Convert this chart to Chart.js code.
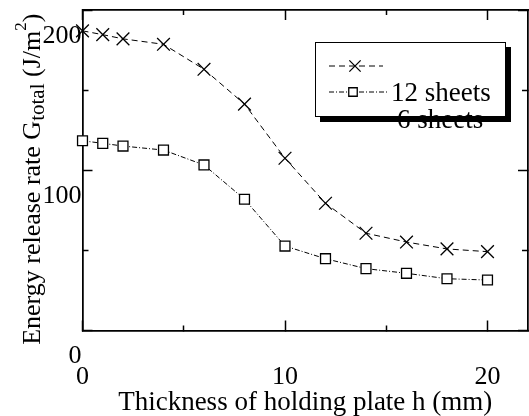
<!DOCTYPE html>
<html>
<head>
<meta charset="utf-8">
<script src="https://cdn.jsdelivr.net/npm/chart.js@4.4.1/dist/chart.umd.min.js"></script>
<style>
  html, body { margin: 0; padding: 0; background: #fff; }
  #wrap { width: 529px; height: 416px; }
</style>
</head>
<body>
<div id="wrap"><canvas id="chart" width="529" height="416"></canvas></div>
<script>
// values
const thickness = [0, 1, 2, 4, 6, 8, 10, 12, 14, 16, 18, 20];
const sheets12 = [187, 184.6, 182, 178.6, 163, 141.3, 107.5, 79.4, 60.7, 55.2, 50.9, 49.2];
const sheets6 = [118.4, 116.8, 115.1, 112.6, 103.3, 81.9, 52.7, 44.8, 38.6, 35.7, 32.3, 31.5];
const seriesNames = ['12 sheets', '6 sheets'];

const xMajor = [0, 10, 20];
const xMinor = [5, 15];
const yMajor = [0, 100, 200];
const yMinor = [50, 150];

const xTitle = 'Thickness of holding plate h (mm)';
const yTitle = ['Energy release rate G', 'total', ' (J/m', '2', ')'];

const SERIF = "'Liberation Serif', 'Times New Roman', serif";

// no label padding pushed onto the chart area
function noPad(a) {
  a.paddingLeft = 0; a.paddingRight = 0; a.paddingTop = 0; a.paddingBottom = 0;
}

// plain frame axis: only inward tick marks, no labels, takes no room
function frameAxis(position, values, len, weight) {
  const horiz = position === 'top' || position === 'bottom';
  return {
    type: 'linear',
    position: position,
    min: 0,
    max: horiz ? 22 : 200,
    weight: weight,
    afterBuildTicks: a => { a.ticks = values.map(v => ({ value: v })); },
    ticks: { display: false },
    grid: { drawOnChartArea: false, tickLength: -len, tickColor: '#000', tickWidth: 1.5 },
    border: { color: '#000', width: 1.5 },
    afterFit: a => { if (horiz) a.height = 0; else a.width = 0; noPad(a); }
  };
}

// y title with subscript and superscript, drawn as text on the canvas
const yTitlePlugin = {
  id: 'yTitle',
  afterDraw(chart) {
    const ctx = chart.ctx;
    const fonts = ['26px', '21px', '26px', '17px', '26px'];
    const shift = [0, 4, 0, -14, 0];
    ctx.save();
    ctx.translate(40, (chart.chartArea.top + chart.chartArea.bottom) / 2 + 9);
    ctx.rotate(-Math.PI / 2);
    ctx.fillStyle = '#000';
    ctx.textBaseline = 'alphabetic';
    let total = 0;
    yTitle.forEach((t, i) => { ctx.font = fonts[i] + ' ' + SERIF; total += ctx.measureText(t).width; });
    let x = -total / 2;
    yTitle.forEach((t, i) => {
      ctx.font = fonts[i] + ' ' + SERIF;
      ctx.fillText(t, x, shift[i]);
      x += ctx.measureText(t).width;
    });
    ctx.restore();
  }
};

// boxed legend with drop shadow; labels sit a row lower like in the original
const legendPlugin = {
  id: 'boxLegend',
  afterDraw(chart) {
    const ctx = chart.ctx;
    const ds = chart.data.datasets;
    ctx.save();
    ctx.fillStyle = '#000';
    ctx.fillRect(320, 47, 191, 75);
    ctx.fillStyle = '#fff';
    ctx.fillRect(315, 42, 191, 75);
    ctx.strokeStyle = '#000';
    ctx.lineWidth = 1;
    ctx.strokeRect(315.5, 42.5, 190, 74);

    const rows = [{ y: 66, x1: 329, x2: 383, mx: 355 }, { y: 92, x1: 329, x2: 388, mx: 353 }];
    rows.forEach((r, i) => {
      const d = ds[i];
      ctx.strokeStyle = '#000';
      ctx.lineWidth = 1;
      ctx.setLineDash(d.borderDash);
      ctx.beginPath();
      ctx.moveTo(r.x1, r.y);
      ctx.lineTo(r.x2, r.y);
      ctx.stroke();
      ctx.setLineDash([]);
      ctx.fillStyle = '#fff';
      ctx.lineWidth = d.pointBorderWidth;
      Chart.helpers.drawPoint(ctx, {
        pointStyle: d.pointStyle, radius: d.pointRadius - 1,
        borderWidth: d.pointBorderWidth, rotation: 0
      }, r.mx, r.y);
    });

    ctx.fillStyle = '#000';
    ctx.font = '27px ' + SERIF;
    ctx.textBaseline = 'middle';
    ctx.fillText(ds[0].label, 391, 94);
    ctx.fillText(ds[1].label, 397, 121);
    ctx.restore();
  }
};

new Chart(document.getElementById('chart'), {
  type: 'line',
  data: {
    datasets: [
      {
        label: seriesNames[0],
        data: thickness.map((h, i) => ({ x: h, y: sheets12[i] })),
        borderColor: '#000',
        borderWidth: 1,
        borderDash: [6, 4],
        pointStyle: 'crossRot',
        pointRadius: 9,
        pointBorderWidth: 1.3,
        pointBorderColor: '#000',
        pointBackgroundColor: '#fff',
        tension: 0,
        clip: false
      },
      {
        label: seriesNames[1],
        data: thickness.map((h, i) => ({ x: h, y: sheets6[i] })),
        borderColor: '#000',
        borderWidth: 1,
        borderDash: [5, 2, 1, 2],
        pointStyle: 'rect',
        pointRadius: 7,
        pointBorderWidth: 1.3,
        pointBorderColor: '#000',
        pointBackgroundColor: '#fff',
        tension: 0,
        clip: false
      }
    ]
  },
  options: {
    responsive: false,
    animation: false,
    layout: { autoPadding: false, padding: { top: 10, right: 1, left: 0, bottom: 0 } },
    plugins: { legend: { display: false }, tooltip: { enabled: false } },
    scales: {
      x: {
        type: 'linear',
        position: 'bottom',
        min: 0,
        max: 22,
        weight: 1,
        afterBuildTicks: a => { a.ticks = xMajor.map(v => ({ value: v })); },
        ticks: { autoSkip: false, maxRotation: 0, padding: 41, color: '#000', font: { family: SERIF, size: 26 } },
        grid: { drawOnChartArea: false, tickLength: -10, tickColor: '#000', tickWidth: 1.5 },
        border: { color: '#000', width: 1.5 },
        title: { display: true, text: xTitle, color: '#000', font: { family: SERIF, size: 27, lineHeight: 1 }, padding: 0 },
        afterFit: a => { a.height = 85.5; noPad(a); }
      },
      xMin: frameAxis('bottom', xMinor, 5, 0),
      y: {
        type: 'linear',
        position: 'left',
        min: 0,
        max: 200,
        weight: 1,
        afterBuildTicks: a => { a.ticks = yMajor.map(v => ({ value: v })); },
        ticks: { autoSkip: false, padding: 11, labelOffset: 26, color: '#000', font: { family: SERIF, size: 26 } },
        grid: { drawOnChartArea: false, tickLength: -10, tickColor: '#000', tickWidth: 1.5 },
        border: { color: '#000', width: 1.5 },
        afterFit: a => { a.width = 82.5; noPad(a); }
      },
      yMin: frameAxis('left', yMinor, 6, 0),
      xTop: frameAxis('top', xMajor, 10, 1),
      xTopMin: frameAxis('top', xMinor, 5, 0),
      yRight: frameAxis('right', yMajor, 10, 1),
      yRightMin: frameAxis('right', yMinor, 6, 0)
    }
  },
  plugins: [yTitlePlugin, legendPlugin]
});
</script>
</body>
</html>
